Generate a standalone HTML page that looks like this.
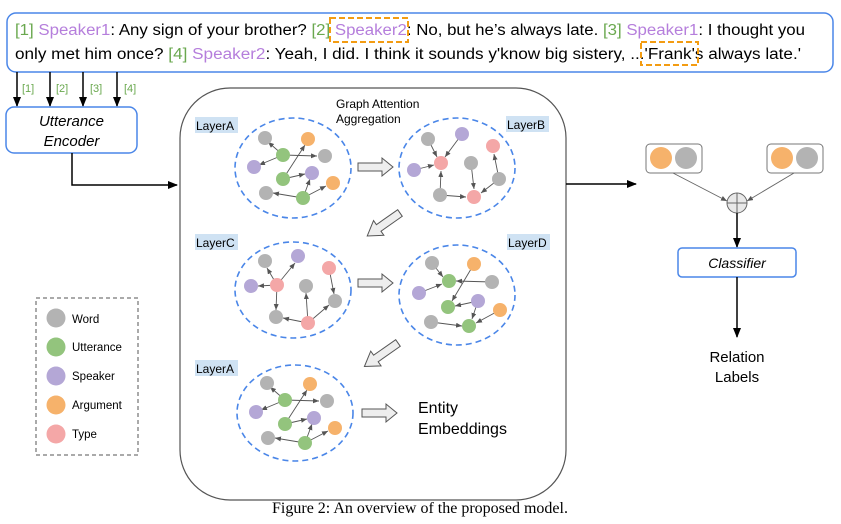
<!DOCTYPE html>
<html><head><meta charset="utf-8"><style>
html,body{margin:0;padding:0;background:#fff}
svg{display:block}
text{font-family:"Liberation Sans",sans-serif}
</style></head><body>
<svg width="841" height="524" viewBox="0 0 841 524" xmlns="http://www.w3.org/2000/svg">
<defs>
<marker id="ab" markerWidth="10" markerHeight="8" refX="9" refY="4" orient="auto" markerUnits="userSpaceOnUse"><path d="M0,0L10,4L0,8z" fill="#000"/></marker>
<marker id="as" markerWidth="6" markerHeight="5" refX="6" refY="2.5" orient="auto" markerUnits="userSpaceOnUse"><path d="M0,0L6,2.5L0,5z" fill="#555"/></marker>
</defs>
<rect x="7" y="13" width="826" height="59" rx="9" fill="#fff" stroke="#4a86e8" stroke-width="1.5"/>
<text x="15" y="35" font-size="15.5" textLength="790" lengthAdjust="spacingAndGlyphs"><tspan fill="#6aa84f">[1]</tspan> <tspan fill="#b57edc">Speaker1</tspan>: Any sign of your brother? <tspan fill="#6aa84f">[2]</tspan> <tspan fill="#b57edc">Speaker2</tspan>: No, but he’s always late. <tspan fill="#6aa84f">[3]</tspan> <tspan fill="#b57edc">Speaker1</tspan>: I thought you</text>
<text x="15" y="59" font-size="15.5" textLength="786" lengthAdjust="spacingAndGlyphs">only met him once?  <tspan fill="#6aa84f">[4]</tspan> <tspan fill="#b57edc">Speaker2</tspan>: Yeah, I did. I think it sounds y'know big sistery, ...'Frank's always late.'</text>
<rect x="330" y="18" width="78" height="24" fill="none" stroke="#f39c12" stroke-width="2" stroke-dasharray="6,3"/>
<rect x="641" y="42" width="57" height="23" fill="none" stroke="#f39c12" stroke-width="2" stroke-dasharray="6,3"/>
<g stroke="#000" stroke-width="1.5" marker-end="url(#ab)">
<line x1="17" y1="72" x2="17" y2="106"/><line x1="50" y1="72" x2="50" y2="106"/><line x1="83" y1="72" x2="83" y2="106"/><line x1="117" y1="72" x2="117" y2="106"/>
</g>
<g font-size="11" fill="#6aa84f"><text x="22" y="92">[1]</text><text x="56" y="92">[2]</text><text x="90" y="92">[3]</text><text x="124" y="92">[4]</text></g>
<rect x="6" y="107" width="131" height="46" rx="8" fill="#fff" stroke="#4a86e8" stroke-width="1.5"/>
<text x="71.5" y="126" font-size="15" font-style="italic" text-anchor="middle">Utterance</text>
<text x="71.5" y="146" font-size="15" font-style="italic" text-anchor="middle">Encoder</text>
<polyline points="72,153 72,185 177,185" fill="none" stroke="#000" stroke-width="1.5" marker-end="url(#ab)"/>
<rect x="180" y="88" width="386" height="412" rx="50" fill="#fff" stroke="#555" stroke-width="1.2"/>
<line x1="566" y1="184" x2="636" y2="184" stroke="#000" stroke-width="1.5" marker-end="url(#ab)"/>
<text x="336" y="108" font-size="12">Graph Attention</text>
<text x="336" y="123" font-size="12">Aggregation</text>
<g font-size="12">
<rect x="195" y="117" width="43" height="16" fill="#cfe2f3"/><text x="196" y="130">LayerA</text>
<rect x="506" y="116" width="43" height="16" fill="#cfe2f3"/><text x="507" y="129">LayerB</text>
<rect x="195" y="234" width="43" height="16" fill="#cfe2f3"/><text x="196" y="247">LayerC</text>
<rect x="507" y="234" width="43" height="16" fill="#cfe2f3"/><text x="508" y="247">LayerD</text>
<rect x="195" y="360" width="43" height="16" fill="#cfe2f3"/><text x="196" y="373">LayerA</text>
</g>
<g fill="none" stroke="#4a86e8" stroke-width="1.6" stroke-dasharray="6,4">
<ellipse cx="293" cy="168" rx="58" ry="50"/>
<ellipse cx="457" cy="168" rx="58" ry="50"/>
<ellipse cx="293" cy="290" rx="58" ry="48"/>
<ellipse cx="457" cy="295" rx="58" ry="50"/>
<ellipse cx="295" cy="413" rx="58" ry="48"/>
</g>
<g fill="#eee" stroke="#555" stroke-width="1">
<path d="M358,163 L382,163 L382,158 L393,167 L382,176 L382,171 L358,171 Z"/>
<path d="M358,279 L382,279 L382,274 L393,283 L382,292 L382,287 L358,287 Z"/>
<path d="M362,409 L386,409 L386,404 L397,413 L386,422 L386,417 L362,417 Z"/>
<g transform="translate(400,213) rotate(145)"><path d="M0,-4 L26,-4 L26,-9 L40,0 L26,9 L26,4 L0,4 Z"/></g>
<g transform="translate(398,343) rotate(145)"><path d="M0,-4 L27,-4 L27,-9 L41,0 L27,9 L27,4 L0,4 Z"/></g>
</g>
<text x="418" y="413" font-size="16">Entity</text>
<text x="418" y="434" font-size="16">Embeddings</text>
<g id="gA">
<g stroke="#555" stroke-width="0.9" marker-end="url(#as)">
<line x1="283" y1="155" x2="268" y2="142"/>
<line x1="283" y1="155" x2="259" y2="165"/>
<line x1="283" y1="155" x2="317" y2="156"/>
<line x1="283" y1="179" x2="305" y2="145"/>
<line x1="283" y1="179" x2="305" y2="174"/>
<line x1="303" y1="198" x2="310" y2="179"/>
<line x1="303" y1="198" x2="326" y2="186"/>
<line x1="303" y1="198" x2="273" y2="193"/>
</g>
<g><circle cx="265" cy="138" r="7" fill="#b3b3b3"/><circle cx="308" cy="139" r="7" fill="#f6b26b"/><circle cx="283" cy="155" r="7" fill="#93c47d"/><circle cx="325" cy="156" r="7" fill="#b3b3b3"/><circle cx="254" cy="167" r="7" fill="#b4a7d6"/><circle cx="283" cy="179" r="7" fill="#93c47d"/><circle cx="312" cy="173" r="7" fill="#b4a7d6"/><circle cx="333" cy="183" r="7" fill="#f6b26b"/><circle cx="266" cy="193" r="7" fill="#b3b3b3"/><circle cx="303" cy="198" r="7" fill="#93c47d"/></g>
</g>
<use href="#gA" transform="translate(2,245)"/>
<g stroke="#555" stroke-width="0.9" marker-end="url(#as)">
<line x1="428" y1="139" x2="437" y2="157"/>
<line x1="462" y1="134" x2="445" y2="157"/>
<line x1="414" y1="170" x2="434" y2="165"/>
<line x1="440" y1="195" x2="441" y2="171"/>
<line x1="440" y1="195" x2="466" y2="197"/>
<line x1="471" y1="163" x2="474" y2="189"/>
<line x1="499" y1="179" x2="481" y2="193"/>
<line x1="499" y1="179" x2="494" y2="154"/>
</g>
<circle cx="428" cy="139" r="7" fill="#b3b3b3"/><circle cx="462" cy="134" r="7" fill="#b4a7d6"/><circle cx="493" cy="146" r="7" fill="#f4a7a7"/><circle cx="441" cy="163" r="7" fill="#f4a7a7"/><circle cx="414" cy="170" r="7" fill="#b4a7d6"/><circle cx="471" cy="163" r="7" fill="#b3b3b3"/><circle cx="499" cy="179" r="7" fill="#b3b3b3"/><circle cx="440" cy="195" r="7" fill="#b3b3b3"/><circle cx="474" cy="197" r="7" fill="#f4a7a7"/>
<g stroke="#555" stroke-width="0.9" marker-end="url(#as)">
<line x1="277" y1="285" x2="267" y2="268"/>
<line x1="277" y1="285" x2="295" y2="263"/>
<line x1="277" y1="285" x2="258" y2="286"/>
<line x1="277" y1="285" x2="276" y2="310"/>
<line x1="308" y1="323" x2="306" y2="293"/>
<line x1="308" y1="323" x2="283" y2="318"/>
<line x1="308" y1="323" x2="329" y2="305"/>
<line x1="329" y1="268" x2="334" y2="294"/>
</g>
<circle cx="265" cy="261" r="7" fill="#b3b3b3"/><circle cx="298" cy="256" r="7" fill="#b4a7d6"/><circle cx="329" cy="268" r="7" fill="#f4a7a7"/><circle cx="277" cy="285" r="7" fill="#f4a7a7"/><circle cx="251" cy="286" r="7" fill="#b4a7d6"/><circle cx="306" cy="286" r="7" fill="#b3b3b3"/><circle cx="335" cy="301" r="7" fill="#b3b3b3"/><circle cx="276" cy="317" r="7" fill="#b3b3b3"/><circle cx="308" cy="323" r="7" fill="#f4a7a7"/>
<g stroke="#555" stroke-width="0.9" marker-end="url(#as)">
<line x1="432" y1="263" x2="443" y2="277"/>
<line x1="419" y1="293" x2="442" y2="284"/>
<line x1="492" y1="282" x2="456" y2="281"/>
<line x1="474" y1="264" x2="452" y2="301"/>
<line x1="478" y1="301" x2="455" y2="306"/>
<line x1="478" y1="301" x2="472" y2="319"/>
<line x1="500" y1="310" x2="476" y2="323"/>
<line x1="431" y1="322" x2="462" y2="326"/>
</g>
<circle cx="432" cy="263" r="7" fill="#b3b3b3"/><circle cx="474" cy="264" r="7" fill="#f6b26b"/><circle cx="449" cy="281" r="7" fill="#93c47d"/><circle cx="492" cy="282" r="7" fill="#b3b3b3"/><circle cx="419" cy="293" r="7" fill="#b4a7d6"/><circle cx="448" cy="307" r="7" fill="#93c47d"/><circle cx="478" cy="301" r="7" fill="#b4a7d6"/><circle cx="500" cy="310" r="7" fill="#f6b26b"/><circle cx="431" cy="322" r="7" fill="#b3b3b3"/><circle cx="469" cy="326" r="7" fill="#93c47d"/>
<rect x="36" y="298" width="102" height="157" fill="none" stroke="#555" stroke-width="1" stroke-dasharray="4,3"/>
<circle cx="56" cy="318" r="9.5" fill="#b3b3b3"/><circle cx="56" cy="347" r="9.5" fill="#93c47d"/><circle cx="56" cy="376" r="9.5" fill="#b4a7d6"/><circle cx="56" cy="405" r="9.5" fill="#f6b26b"/><circle cx="56" cy="434" r="9.5" fill="#f4a7a7"/>
<g font-size="11.5"><text x="72" y="323">Word</text><text x="72" y="351">Utterance</text><text x="72" y="380">Speaker</text><text x="72" y="409">Argument</text><text x="72" y="438">Type</text></g>
<rect x="646" y="144" width="56" height="29" rx="4" fill="#fff" stroke="#777" stroke-width="1"/>
<circle cx="661" cy="158" r="11" fill="#f6b26b"/><circle cx="686" cy="158" r="11" fill="#b3b3b3"/>
<rect x="767" y="144" width="56" height="29" rx="4" fill="#fff" stroke="#777" stroke-width="1"/>
<circle cx="782" cy="158" r="11" fill="#f6b26b"/><circle cx="807" cy="158" r="11" fill="#b3b3b3"/>
<g stroke="#666" stroke-width="0.9" marker-end="url(#as)">
<line x1="673" y1="173" x2="727" y2="201"/>
<line x1="794" y1="173" x2="747" y2="201"/>
</g>
<ellipse cx="737" cy="203" rx="10" ry="10" fill="#e8e8e8" stroke="#666" stroke-width="1"/>
<line x1="727" y1="203" x2="747" y2="203" stroke="#666"/><line x1="737" y1="193" x2="737" y2="213" stroke="#666"/>
<line x1="737" y1="213" x2="737" y2="247" stroke="#000" stroke-width="1.5" marker-end="url(#ab)"/>
<rect x="678" y="248" width="118" height="29" rx="4" fill="#fff" stroke="#4a86e8" stroke-width="1.5"/>
<text x="737" y="268" font-size="14" font-style="italic" text-anchor="middle">Classifier</text>
<line x1="737" y1="277" x2="737" y2="337" stroke="#000" stroke-width="1.5" marker-end="url(#ab)"/>
<text x="737" y="362" font-size="15" text-anchor="middle">Relation</text>
<text x="737" y="382" font-size="15" text-anchor="middle">Labels</text>
<text x="420" y="513" font-size="16" text-anchor="middle" style="font-family:'Liberation Serif',serif">Figure 2:  An overview of the proposed model.</text>
</svg>
</body></html>
